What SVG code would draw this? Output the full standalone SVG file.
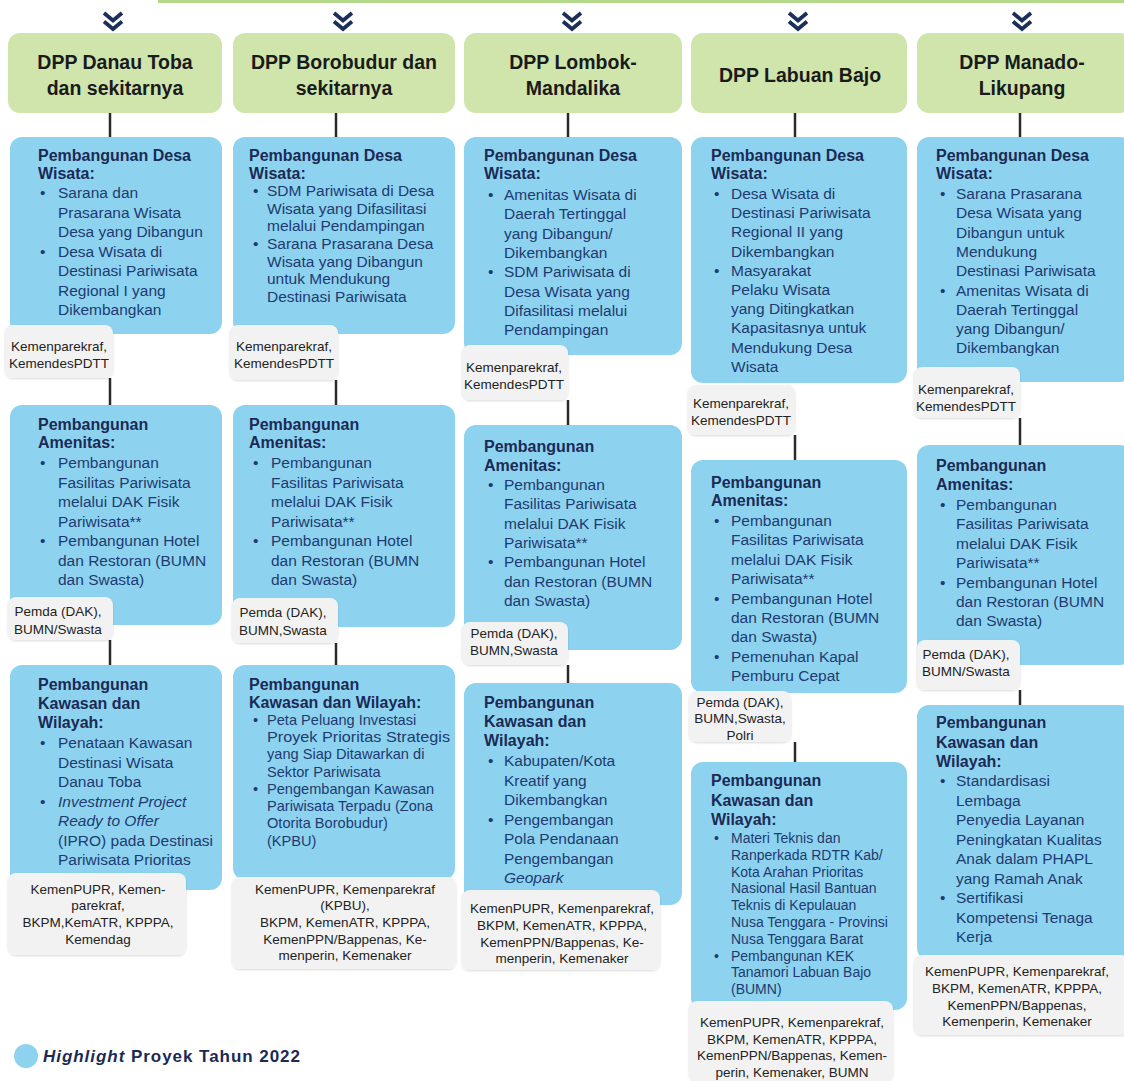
<svg xmlns="http://www.w3.org/2000/svg" width="1124" height="1081" viewBox="0 0 1124 1081">
<style>
.hdr{fill:#d0e5ac}
.blue{fill:#8dd3ef}
.grey{fill:#f2f2f2;filter:url(#sh)}
.h{font-family:"Liberation Sans",Arial,sans-serif;font-weight:bold;font-size:19.5px;fill:#1a1a1a;text-anchor:middle}
.t{font-family:"Liberation Sans",Arial,sans-serif;font-weight:bold;font-size:16px;fill:#1b2a55}
.b{font-family:"Liberation Sans",Arial,sans-serif;font-size:15.5px;fill:#1f3a70}
.s{font-family:"Liberation Sans",Arial,sans-serif;font-size:14.6px;fill:#1f3a70}
.xs{font-family:"Liberation Sans",Arial,sans-serif;font-size:14px;fill:#1f3a70}
.g{font-family:"Liberation Sans",Arial,sans-serif;font-size:13.5px;fill:#222;text-anchor:middle}
.i{font-style:italic}
.conn line{stroke:#2a2a2a;stroke-width:2.5}
.chev path{fill:none;stroke:#1b2f5b;stroke-width:3.8}
</style>
<defs>
<filter id="sh" x="-10%" y="-10%" width="120%" height="130%">
<feDropShadow dx="0" dy="1" stdDeviation="1.2" flood-color="#000" flood-opacity="0.15"/>
</filter>
</defs>
<rect width="1124" height="1081" fill="#ffffff"/>
<line x1="158" y1="1.5" x2="1124" y2="1.5" stroke="#b5d98a" stroke-width="3"/>

<g class="chev">
<path d="M104,13 L113,20.5 L122,13 M104,21.5 L113,29 L122,21.5"/>
<path d="M334,13 L343,20.5 L352,13 M334,21.5 L343,29 L352,21.5"/>
<path d="M563,13 L572,20.5 L581,13 M563,21.5 L572,29 L581,21.5"/>
<path d="M789,13 L798,20.5 L807,13 M789,21.5 L798,29 L807,21.5"/>
<path d="M1013,13 L1022,20.5 L1031,13 M1013,21.5 L1022,29 L1031,21.5"/>
</g>

<g class="conn">
<line x1="110" y1="113" x2="110" y2="137"/>
<line x1="110" y1="378" x2="110" y2="405"/>
<line x1="110" y1="640" x2="110" y2="665"/>
<line x1="336" y1="113" x2="336" y2="137"/>
<line x1="336" y1="380" x2="336" y2="405"/>
<line x1="336" y1="643" x2="336" y2="665"/>
<line x1="568" y1="113" x2="568" y2="137"/>
<line x1="568" y1="400" x2="568" y2="425"/>
<line x1="568" y1="665" x2="568" y2="683"/>
<line x1="795" y1="113" x2="795" y2="137"/>
<line x1="795" y1="435" x2="795" y2="460"/>
<line x1="795" y1="742" x2="795" y2="762"/>
<line x1="1020" y1="113" x2="1020" y2="137"/>
<line x1="1020" y1="418" x2="1020" y2="445"/>
<line x1="1020" y1="690" x2="1020" y2="705"/>
</g>

<!-- Column 1 -->
<g id="hdr1"><rect class="hdr" x="8" y="33" width="214" height="80" rx="12"/>
<text class="h" x="115" y="69">DPP Danau Toba</text><text class="h" x="115" y="95">dan sekitarnya</text></g>
<g id="c1b1"><rect class="blue" x="10" y="137" width="212" height="197" rx="12"/>
<text class="t" x="38" y="161">Pembangunan Desa</text><text class="t" x="38" y="179">Wisata:</text>
<text class="b" x="40" y="198">•</text><text class="b" x="40" y="256.5">•</text>
<text class="b"><tspan x="58" y="198">Sarana dan</tspan><tspan x="58" y="217.5">Prasarana Wisata</tspan><tspan x="58" y="237">Desa yang Dibangun</tspan><tspan x="58" y="256.5">Desa Wisata di</tspan><tspan x="58" y="276">Destinasi Pariwisata</tspan><tspan x="58" y="295.5">Regional I yang</tspan><tspan x="58" y="315">Dikembangkan</tspan></text></g>
<g id="c1g1"><rect class="grey" x="5" y="325" width="108" height="53" rx="8"/>
<text class="g" x="59" y="351">Kemenparekraf,</text><text class="g" x="59" y="368">KemendesPDTT</text></g>
<g id="c1b2"><rect class="blue" x="10" y="405" width="212" height="220" rx="12"/>
<text class="t" x="38" y="430">Pembangunan</text><text class="t" x="38" y="448">Amenitas:</text>
<text class="b" x="40" y="468">•</text><text class="b" x="40" y="546">•</text>
<text class="b"><tspan x="58" y="468">Pembangunan</tspan><tspan x="58" y="487.5">Fasilitas Pariwisata</tspan><tspan x="58" y="507">melalui DAK Fisik</tspan><tspan x="58" y="526.5">Pariwisata**</tspan><tspan x="58" y="546">Pembangunan Hotel</tspan><tspan x="58" y="565.5">dan Restoran (BUMN</tspan><tspan x="58" y="585">dan Swasta)</tspan></text></g>
<g id="c1g2"><rect class="grey" x="8" y="597" width="105" height="43" rx="8"/>
<text class="g" x="58" y="616">Pemda (DAK),</text><text class="g" x="58" y="634">BUMN/Swasta</text></g>
<g id="c1b3"><rect class="blue" x="10" y="665" width="212" height="225" rx="12"/>
<text class="t" x="38" y="690">Pembangunan</text><text class="t" x="38" y="709">Kawasan dan</text><text class="t" x="38" y="728">Wilayah:</text>
<text class="b" x="40" y="748">•</text><text class="b" x="40" y="806.5">•</text>
<text class="b"><tspan x="58" y="748">Penataan Kawasan</tspan><tspan x="58" y="767.5">Destinasi Wisata</tspan><tspan x="58" y="787">Danau Toba</tspan><tspan x="58" y="806.5" class="i">Investment Project</tspan><tspan x="58" y="826" class="i">Ready to Offer</tspan><tspan x="58" y="845.5">(IPRO) pada Destinasi</tspan><tspan x="58" y="865">Pariwisata Prioritas</tspan></text></g>
<g id="c1g3"><rect class="grey" x="8" y="873" width="178" height="82" rx="8"/>
<text class="g"><tspan x="98" y="894">KemenPUPR, Kemen-</tspan><tspan x="98" y="910">parekraf,</tspan><tspan x="98" y="927">BKPM,KemATR, KPPPA,</tspan><tspan x="98" y="944">Kemendag</tspan></text></g>

<!-- Column 2 -->
<g id="hdr2"><rect class="hdr" x="233" y="33" width="222" height="80" rx="12"/>
<text class="h" x="344" y="69">DPP Borobudur dan</text><text class="h" x="344" y="95">sekitarnya</text></g>
<g id="c2b1"><rect class="blue" x="233" y="137" width="222" height="197" rx="12"/>
<text class="t" x="249" y="161">Pembangunan Desa</text><text class="t" x="249" y="179">Wisata:</text>
<text class="b" x="253" y="196">•</text><text class="b" x="253" y="249">•</text>
<text class="b"><tspan x="267" y="196">SDM Pariwisata di Desa</tspan><tspan x="267" y="213.7">Wisata yang Difasilitasi</tspan><tspan x="267" y="231.4">melalui Pendampingan</tspan><tspan x="267" y="249">Sarana Prasarana Desa</tspan><tspan x="267" y="266.7">Wisata yang Dibangun</tspan><tspan x="267" y="284.4">untuk Mendukung</tspan><tspan x="267" y="302">Destinasi Pariwisata</tspan></text></g>
<g id="c2g1"><rect class="grey" x="230" y="325" width="108" height="55" rx="8"/>
<text class="g" x="284" y="351">Kemenparekraf,</text><text class="g" x="284" y="368">KemendesPDTT</text></g>
<g id="c2b2"><rect class="blue" x="233" y="405" width="222" height="222" rx="12"/>
<text class="t" x="249" y="430">Pembangunan</text><text class="t" x="249" y="448">Amenitas:</text>
<text class="b" x="253" y="468">•</text><text class="b" x="253" y="546">•</text>
<text class="b"><tspan x="271" y="468">Pembangunan</tspan><tspan x="271" y="487.5">Fasilitas Pariwisata</tspan><tspan x="271" y="507">melalui DAK Fisik</tspan><tspan x="271" y="526.5">Pariwisata**</tspan><tspan x="271" y="546">Pembangunan Hotel</tspan><tspan x="271" y="565.5">dan Restoran (BUMN</tspan><tspan x="271" y="585">dan Swasta)</tspan></text></g>
<g id="c2g2"><rect class="grey" x="232" y="598" width="106" height="45" rx="8"/>
<text class="g" x="283" y="617">Pemda (DAK),</text><text class="g" x="283" y="635">BUMN,Swasta</text></g>
<g id="c2b3"><rect class="blue" x="233" y="665" width="222" height="215" rx="12"/>
<text class="t" x="249" y="690">Pembangunan</text><text class="t" x="249" y="708">Kawasan dan Wilayah:</text>
<text class="s" x="253" y="725">•</text><text class="s" x="253" y="794">•</text>
<text class="s"><tspan x="267" y="725">Peta Peluang Investasi</tspan><tspan x="267" y="742.2" textLength="183" lengthAdjust="spacingAndGlyphs">Proyek Prioritas Strategis</tspan><tspan x="267" y="759.4">yang Siap Ditawarkan di</tspan><tspan x="267" y="776.6">Sektor Pariwisata</tspan><tspan x="267" y="794">Pengembangan Kawasan</tspan><tspan x="267" y="811.2">Pariwisata Terpadu (Zona</tspan><tspan x="267" y="828.4">Otorita Borobudur)</tspan><tspan x="267" y="845.6">(KPBU)</tspan></text></g>
<g id="c2g3"><rect class="grey" x="232" y="877" width="224" height="92" rx="8"/>
<text class="g"><tspan x="345" y="894">KemenPUPR, Kemenparekraf</tspan><tspan x="345" y="910">(KPBU),</tspan><tspan x="345" y="927">BKPM, KemenATR, KPPPA,</tspan><tspan x="345" y="944">KemenPPN/Bappenas, Ke-</tspan><tspan x="345" y="960">menperin, Kemenaker</tspan></text></g>

<!-- Column 3 -->
<g id="hdr3"><rect class="hdr" x="464" y="33" width="218" height="80" rx="12"/>
<text class="h" x="573" y="69">DPP Lombok-</text><text class="h" x="573" y="95">Mandalika</text></g>
<g id="c3b1"><rect class="blue" x="464" y="137" width="218" height="218" rx="12"/>
<text class="t" x="484" y="161">Pembangunan Desa</text><text class="t" x="484" y="179">Wisata:</text>
<text class="b" x="488" y="200">•</text><text class="b" x="488" y="277.2">•</text>
<text class="b"><tspan x="504" y="200">Amenitas Wisata di</tspan><tspan x="504" y="219.3">Daerah Tertinggal</tspan><tspan x="504" y="238.6">yang Dibangun/</tspan><tspan x="504" y="257.9">Dikembangkan</tspan><tspan x="504" y="277.2">SDM Pariwisata di</tspan><tspan x="504" y="296.5">Desa Wisata yang</tspan><tspan x="504" y="315.8">Difasilitasi melalui</tspan><tspan x="504" y="335">Pendampingan</tspan></text></g>
<g id="c3g1"><rect class="grey" x="462" y="345" width="106" height="55" rx="8"/>
<text class="g" x="514" y="372">Kemenparekraf,</text><text class="g" x="514" y="389">KemendesPDTT</text></g>
<g id="c3b2"><rect class="blue" x="464" y="425" width="218" height="225" rx="12"/>
<text class="t" x="484" y="452">Pembangunan</text><text class="t" x="484" y="471">Amenitas:</text>
<text class="b" x="488" y="490">•</text><text class="b" x="488" y="567.2">•</text>
<text class="b"><tspan x="504" y="490">Pembangunan</tspan><tspan x="504" y="509.3">Fasilitas Pariwisata</tspan><tspan x="504" y="528.6">melalui DAK Fisik</tspan><tspan x="504" y="547.9">Pariwisata**</tspan><tspan x="504" y="567.2">Pembangunan Hotel</tspan><tspan x="504" y="586.5">dan Restoran (BUMN</tspan><tspan x="504" y="605.8">dan Swasta)</tspan></text></g>
<g id="c3g2"><rect class="grey" x="462" y="622" width="106" height="43" rx="8"/>
<text class="g" x="514" y="638">Pemda (DAK),</text><text class="g" x="514" y="655">BUMN,Swasta</text></g>
<g id="c3b3"><rect class="blue" x="464" y="683" width="218" height="222" rx="12"/>
<text class="t" x="484" y="708">Pembangunan</text><text class="t" x="484" y="727">Kawasan dan</text><text class="t" x="484" y="746">Wilayah:</text>
<text class="b" x="488" y="766">•</text><text class="b" x="488" y="824.5">•</text>
<text class="b"><tspan x="504" y="766">Kabupaten/Kota</tspan><tspan x="504" y="785.5">Kreatif yang</tspan><tspan x="504" y="805">Dikembangkan</tspan><tspan x="504" y="824.5">Pengembangan</tspan><tspan x="504" y="844">Pola Pendanaan</tspan><tspan x="504" y="863.5">Pengembangan</tspan><tspan x="504" y="883" class="i">Geopark</tspan></text></g>
<g id="c3g3"><rect class="grey" x="462" y="890" width="198" height="80" rx="8"/>
<text class="g"><tspan x="562" y="913">KemenPUPR, Kemenparekraf,</tspan><tspan x="562" y="930">BKPM, KemenATR, KPPPA,</tspan><tspan x="562" y="947">KemenPPN/Bappenas, Ke-</tspan><tspan x="562" y="963">menperin, Kemenaker</tspan></text></g>

<!-- Column 4 -->
<g id="hdr4"><rect class="hdr" x="691" y="33" width="216" height="80" rx="12"/>
<text class="h" x="800" y="82">DPP Labuan Bajo</text></g>
<g id="c4b1"><rect class="blue" x="691" y="137" width="216" height="246" rx="12"/>
<text class="t" x="711" y="161">Pembangunan Desa</text><text class="t" x="711" y="179">Wisata:</text>
<text class="b" x="714" y="199">•</text><text class="b" x="714" y="275.8">•</text>
<text class="b"><tspan x="731" y="199">Desa Wisata di</tspan><tspan x="731" y="218.2">Destinasi Pariwisata</tspan><tspan x="731" y="237.4">Regional II yang</tspan><tspan x="731" y="256.6">Dikembangkan</tspan><tspan x="731" y="275.8">Masyarakat</tspan><tspan x="731" y="295">Pelaku Wisata</tspan><tspan x="731" y="314.2">yang Ditingkatkan</tspan><tspan x="731" y="333.4">Kapasitasnya untuk</tspan><tspan x="731" y="352.6">Mendukung Desa</tspan><tspan x="731" y="371.8">Wisata</tspan></text></g>
<g id="c4g1"><rect class="grey" x="688" y="385" width="107" height="50" rx="8"/>
<text class="g" x="741" y="408">Kemenparekraf,</text><text class="g" x="741" y="425">KemendesPDTT</text></g>
<g id="c4b2"><rect class="blue" x="691" y="460" width="216" height="233" rx="12"/>
<text class="t" x="711" y="488">Pembangunan</text><text class="t" x="711" y="506">Amenitas:</text>
<text class="b" x="714" y="526">•</text><text class="b" x="714" y="603.6">•</text><text class="b" x="714" y="661.8">•</text>
<text class="b"><tspan x="731" y="526">Pembangunan</tspan><tspan x="731" y="545.4">Fasilitas Pariwisata</tspan><tspan x="731" y="564.8">melalui DAK Fisik</tspan><tspan x="731" y="584.2">Pariwisata**</tspan><tspan x="731" y="603.6">Pembangunan Hotel</tspan><tspan x="731" y="623">dan Restoran (BUMN</tspan><tspan x="731" y="642.4">dan Swasta)</tspan><tspan x="731" y="661.8">Pemenuhan Kapal</tspan><tspan x="731" y="681.2">Pemburu Cepat</tspan></text></g>
<g id="c4g2"><rect class="grey" x="689" y="691" width="102" height="51" rx="8"/>
<text class="g"><tspan x="740" y="707">Pemda (DAK),</tspan><tspan x="740" y="723">BUMN,Swasta,</tspan><tspan x="740" y="740">Polri</tspan></text></g>
<g id="c4b3"><rect class="blue" x="691" y="762" width="216" height="248" rx="12"/>
<text class="t" x="711" y="786">Pembangunan</text><text class="t" x="711" y="806">Kawasan dan</text><text class="t" x="711" y="825">Wilayah:</text>
<text class="xs" x="714" y="843">•</text><text class="xs" x="714" y="960.6">•</text>
<text class="xs"><tspan x="731" y="843">Materi Teknis dan</tspan><tspan x="731" y="859.8">Ranperkada RDTR Kab/</tspan><tspan x="731" y="876.6">Kota Arahan Prioritas</tspan><tspan x="731" y="893.4">Nasional Hasil Bantuan</tspan><tspan x="731" y="910.2">Teknis di Kepulauan</tspan><tspan x="731" y="927">Nusa Tenggara - Provinsi</tspan><tspan x="731" y="943.8">Nusa Tenggara Barat</tspan><tspan x="731" y="960.6">Pembangunan KEK</tspan><tspan x="731" y="977.4">Tanamori Labuan Bajo</tspan><tspan x="731" y="994.2">(BUMN)</tspan></text></g>
<g id="c4g3"><rect class="grey" x="689" y="1001" width="204" height="80" rx="8"/>
<text class="g"><tspan x="792" y="1027">KemenPUPR, Kemenparekraf,</tspan><tspan x="792" y="1044">BKPM, KemenATR, KPPPA,</tspan><tspan x="792" y="1060">KemenPPN/Bappenas, Kemen-</tspan><tspan x="792" y="1077">perin, Kemenaker, BUMN</tspan></text></g>

<!-- Column 5 -->
<g id="hdr5"><rect class="hdr" x="917" y="33" width="215" height="80" rx="12"/>
<text class="h" x="1022" y="69">DPP Manado-</text><text class="h" x="1022" y="95">Likupang</text></g>
<g id="c5b1"><rect class="blue" x="917" y="137" width="215" height="245" rx="12"/>
<text class="t" x="936" y="161">Pembangunan Desa</text><text class="t" x="936" y="179">Wisata:</text>
<text class="b" x="940" y="199">•</text><text class="b" x="940" y="295.5">•</text>
<text class="b"><tspan x="956" y="199">Sarana Prasarana</tspan><tspan x="956" y="218.3">Desa Wisata yang</tspan><tspan x="956" y="237.6">Dibangun untuk</tspan><tspan x="956" y="256.9">Mendukung</tspan><tspan x="956" y="276.2">Destinasi Pariwisata</tspan><tspan x="956" y="295.5">Amenitas Wisata di</tspan><tspan x="956" y="314.8">Daerah Tertinggal</tspan><tspan x="956" y="334.1">yang Dibangun/</tspan><tspan x="956" y="353.4">Dikembangkan</tspan></text></g>
<g id="c5g1"><rect class="grey" x="914" y="367" width="106" height="51" rx="8"/>
<text class="g" x="966" y="394">Kemenparekraf,</text><text class="g" x="966" y="411">KemendesPDTT</text></g>
<g id="c5b2"><rect class="blue" x="917" y="445" width="215" height="220" rx="12"/>
<text class="t" x="936" y="471">Pembangunan</text><text class="t" x="936" y="490">Amenitas:</text>
<text class="b" x="940" y="510">•</text><text class="b" x="940" y="587.6">•</text>
<text class="b"><tspan x="956" y="510">Pembangunan</tspan><tspan x="956" y="529.4">Fasilitas Pariwisata</tspan><tspan x="956" y="548.8">melalui DAK Fisik</tspan><tspan x="956" y="568.2">Pariwisata**</tspan><tspan x="956" y="587.6">Pembangunan Hotel</tspan><tspan x="956" y="607">dan Restoran (BUMN</tspan><tspan x="956" y="626.4">dan Swasta)</tspan></text></g>
<g id="c5g2"><rect class="grey" x="917" y="640" width="103" height="50" rx="8"/>
<text class="g" x="966" y="659">Pemda (DAK),</text><text class="g" x="966" y="676">BUMN/Swasta</text></g>
<g id="c5b3"><rect class="blue" x="917" y="705" width="215" height="255" rx="12"/>
<text class="t" x="936" y="728">Pembangunan</text><text class="t" x="936" y="748">Kawasan dan</text><text class="t" x="936" y="767">Wilayah:</text>
<text class="b" x="940" y="786">•</text><text class="b" x="940" y="903">•</text>
<text class="b"><tspan x="956" y="786">Standardisasi</tspan><tspan x="956" y="805.5">Lembaga</tspan><tspan x="956" y="825">Penyedia Layanan</tspan><tspan x="956" y="844.5">Peningkatan Kualitas</tspan><tspan x="956" y="864">Anak dalam PHAPL</tspan><tspan x="956" y="883.5">yang Ramah Anak</tspan><tspan x="956" y="903">Sertifikasi</tspan><tspan x="956" y="922.5">Kompetensi Tenaga</tspan><tspan x="956" y="942">Kerja</tspan></text></g>
<g id="c5g3"><rect class="grey" x="914" y="955" width="215" height="80" rx="8"/>
<text class="g"><tspan x="1017" y="976">KemenPUPR, Kemenparekraf,</tspan><tspan x="1017" y="993">BKPM, KemenATR, KPPPA,</tspan><tspan x="1017" y="1010">KemenPPN/Bappenas,</tspan><tspan x="1017" y="1026">Kemenperin, Kemenaker</tspan></text></g>

<!-- Legend -->
<g id="legend"><circle class="blue" cx="26" cy="1056" r="12"/>
<text x="43" y="1062" font-family="Liberation Sans, Arial, sans-serif" font-size="17" font-weight="bold" fill="#1b2a55" textLength="257" lengthAdjust="spacing"><tspan font-style="italic">Highlight</tspan> Proyek Tahun 2022</text></g>
</svg>
